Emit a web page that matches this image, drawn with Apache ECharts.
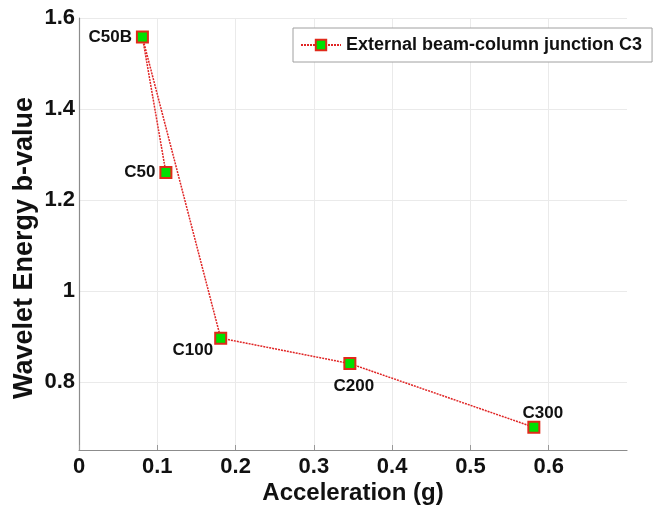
<!DOCTYPE html>
<html>
<head>
<meta charset="utf-8">
<script src="https://cdn.jsdelivr.net/npm/echarts@6/dist/echarts.min.js"></script>
<style>html,body{margin:0;padding:0;background:#fff;}#c{width:653px;height:509px;}</style>
</head>
<body>
<div id="c"></div>
<script>
const names = ['C50', 'C50B', 'C100', 'C200', 'C300'];
const acceleration = [0.111, 0.081, 0.181, 0.346, 0.581];
const bValue = [1.26, 1.558, 0.896, 0.84, 0.70];
const labelPos = ['left', 'left', 'left', 'bottom', 'top'];
const yTicks = [0.8, 1.0, 1.2, 1.4, 1.6];
const xTicks = [0, 0.1, 0.2, 0.3, 0.4, 0.5, 0.6];
const seriesName = 'External beam-column junction C3';

const font = 'Liberation Sans, Arial, sans-serif';
const labelStyle = {
  C50:  {distance: 4, offset: [0, 0]},
  C50B: {distance: 4, offset: [0, 0]},
  C100: {distance: 4, offset: [3, 12]},
  C200: {distance: 8, offset: [4, 0]},
  C300: {distance: -1, offset: [9, 0]}
};

const data = names.map((n, i) => ({
  value: [acceleration[i], bValue[i]],
  name: n,
  label: Object.assign({position: labelPos[i]}, labelStyle[n])
}));

const chart = echarts.init(document.getElementById('c'), null, {renderer: 'canvas'});
chart.setOption({
  animation: false,
  backgroundColor: '#fff',
  grid: {left: 79, right: 26, top: 18, bottom: 59, containLabel: false, outerBoundsMode: 'none'},
  legend: {
    data: [seriesName],
    left: 293, top: 28,
    padding: [8, 10, 8, 7],
    itemWidth: 40, itemHeight: 13,
    itemGap: 5,
    borderColor: '#a0a0a0', borderWidth: 1,
    backgroundColor: '#fff',
    textStyle: {fontFamily: font, fontWeight: 'bold', fontSize: 18, color: '#111'}
  },
  xAxis: {
    type: 'value', min: 0, max: 0.7, interval: 0.1,
    name: 'Acceleration (g)', nameLocation: 'middle', nameGap: 31, nameMoveOverlap: false,
    nameTextStyle: {fontFamily: font, fontWeight: 'bold', fontSize: 24, color: '#111'},
    axisLine: {lineStyle: {color: '#8c8c8c', width: 1.2}},
    axisTick: {inside: true, length: 5, lineStyle: {color: '#999'}, customValues: xTicks},
    axisLabel: {fontFamily: font, fontWeight: 'bold', fontSize: 22, color: '#111', margin: 6,
      customValues: xTicks, formatter: v => (Math.round(v * 10) / 10).toString()},
    splitLine: {show: true, lineStyle: {color: '#eaeaea', width: 1}}
  },
  yAxis: {
    type: 'value', min: 0.65, max: 1.6,
    name: 'Wavelet Energy b-value', nameLocation: 'middle', nameGap: 41, nameMoveOverlap: false,
    nameTextStyle: {fontFamily: font, fontWeight: 'bold', fontSize: 27, color: '#111', padding: [0, 28, 0, 0]},
    axisLine: {show: true, lineStyle: {color: '#8c8c8c', width: 1.2}},
    axisTick: {show: false, customValues: yTicks},
    axisLabel: {fontFamily: font, fontWeight: 'bold', fontSize: 22, color: '#111', margin: 4,
      customValues: yTicks, formatter: v => { const r = Math.round(v * 10) / 10; return r === 1 ? '1' : r.toString(); }},
    splitLine: {show: true, lineStyle: {color: '#eaeaea', width: 1}}
  },
  series: [{
    name: seriesName,
    type: 'line',
    data: data,
    symbol: 'rect',
    symbolSize: 11,
    lineStyle: {color: '#e02525', width: 1.5, type: [2, 1]},
    itemStyle: {color: '#00e000', borderColor: '#e02a1a', borderWidth: 2},
    label: {show: true, formatter: p => p.name, fontFamily: font, fontWeight: 'bold', fontSize: 17, color: '#111'},
    z: 3
  }]
});
</script>
</body>
</html>
